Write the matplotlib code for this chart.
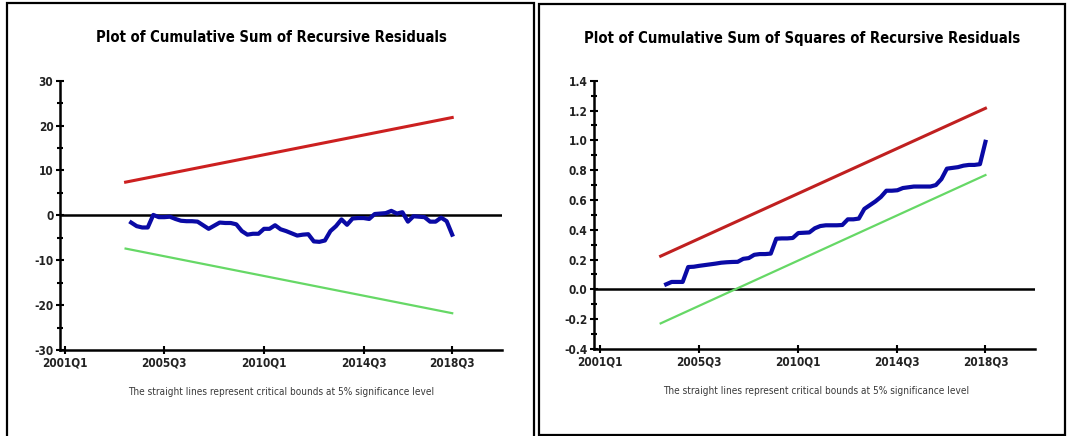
import matplotlib
matplotlib.use("Agg")
import matplotlib.pyplot as plt
import matplotlib.patches as patches
from matplotlib.ticker import MultipleLocator, FormatStrFormatter
import pandas as pd

plt.rcParams["axes.unicode_minus"] = False

# quarter labels on the x axis
base_quarter = pd.Period("2001Q1", freq="Q")
tick_quarters = ["2001Q1", "2005Q3", "2010Q1", "2014Q3", "2018Q3"]

# CUSUM of recursive residuals, 2004Q1 .. 2018Q3
cusum_start = "2004Q1"
cusum = [-1.6, -2.4, -2.7, -2.7, 0.1, -0.4, -0.4, -0.3, -0.8, -1.2,
         -1.3, -1.3, -1.4, -2.2, -3.0, -2.3, -1.6, -1.7, -1.7, -2.0,
         -3.5, -4.3, -4.1, -4.1, -3.0, -3.0, -2.2, -3.1, -3.5, -4.0,
         -4.5, -4.3, -4.2, -5.8, -5.9, -5.6, -3.5, -2.4, -0.9, -2.1,
         -0.7, -0.6, -0.6, -0.8, 0.3, 0.4, 0.5, 1.0, 0.4, 0.7,
         -1.4, -0.2, -0.3, -0.4, -1.4, -1.4, -0.5, -1.3, -4.3]
cusum_bound_q = ["2003Q4", "2018Q3"]
cusum_upper = [7.4, 21.8]
cusum_lower = [-7.4, -21.8]

# CUSUM of squares, 2004Q1 .. 2018Q3
cusumsq_start = "2004Q1"
cusumsq = [0.034, 0.05, 0.05, 0.05, 0.15, 0.152, 0.158, 0.163, 0.168, 0.173,
           0.179, 0.182, 0.184, 0.185, 0.205, 0.21, 0.232, 0.237, 0.237, 0.24,
           0.34, 0.342, 0.342, 0.345, 0.378, 0.38, 0.382, 0.41, 0.425, 0.43,
           0.43, 0.43, 0.432, 0.47, 0.47, 0.475, 0.54, 0.565, 0.59, 0.62,
           0.662, 0.662, 0.665, 0.68, 0.685, 0.69, 0.69, 0.69, 0.69, 0.70,
           0.74, 0.81, 0.815, 0.82, 0.83, 0.835, 0.835, 0.84, 0.99]
cusumsq_bound_q = ["2003Q4", "2018Q3"]
cusumsq_upper = [0.223, 1.215]
cusumsq_lower = [-0.228, 0.767]

note = "The straight lines represent critical bounds at 5% significance level"
FONT = ["DejaVu Sans"]
STRETCH = "condensed"


def qidx(q):
    return (pd.Period(q, freq="Q") - base_quarter).n


def series_x(start, n):
    s = qidx(start)
    return list(range(s, s + n))


def style_axes(ax, xlim, ylim, major, minor, fmt):
    ax.set_xlim(*xlim)
    ax.set_ylim(*ylim)
    for s in ["top", "right"]:
        ax.spines[s].set_visible(False)
    for s in ["left", "bottom"]:
        ax.spines[s].set_linewidth(1.8)
    ax.set_xticks([qidx(q) for q in tick_quarters])
    ax.set_xticklabels(tick_quarters)
    ax.yaxis.set_major_locator(MultipleLocator(major))
    ax.yaxis.set_minor_locator(MultipleLocator(minor))
    ax.yaxis.set_major_formatter(FormatStrFormatter(fmt))
    ax.tick_params(axis="both", which="major", direction="inout", length=6,
                   width=1.5, labelsize=8.5, pad=2)
    ax.tick_params(axis="y", which="minor", direction="inout", length=4, width=1.5)
    fig.canvas.draw()
    for lab in ax.get_xticklabels() + ax.get_yticklabels():
        lab.set_family(FONT)
        lab.set_stretch(STRETCH)
        lab.set_fontweight("bold")
        lab.set_color("#222222")
    ax.axhline(0, color="black", lw=1.8, zorder=1)


fig = plt.figure(figsize=(10.67, 4.36), dpi=100)

# panel borders
fig.add_artist(patches.Rectangle((7 / 1067, -0.01), 527 / 1067, 1 - 3 / 436 + 0.01,
                                 transform=fig.transFigure, fill=False,
                                 edgecolor="black", lw=1.6))
fig.add_artist(patches.Rectangle((539 / 1067, 1 / 436), 526 / 1067, 1 - 5 / 436,
                                 transform=fig.transFigure, fill=False,
                                 edgecolor="black", lw=1.6))

# left: CUSUM
ax1 = fig.add_axes([0.0565, 0.1972, 0.414, 0.6177])
style_axes(ax1, (-0.8, 79), (-30, 30), 10, 5, "%d")
ax1.plot([qidx(q) for q in cusum_bound_q], cusum_upper, color="#cc2020", lw=2.2)
ax1.plot([qidx(q) for q in cusum_bound_q], cusum_lower, color="#66d866", lw=1.6)
ax1.plot(series_x(cusum_start, len(cusum)), cusum, color="#0a0aa5", lw=3,
         solid_joinstyle="round")
fig.text(271 / 1067, 1 - 38 / 436, "Plot of Cumulative Sum of Recursive Residuals",
         ha="center", va="center", fontsize=10.6, fontweight="bold", family=FONT,
         stretch=STRETCH)
fig.text(281 / 1067, 1 - 392 / 436, note, ha="center", va="center",
         fontsize=7.2, color="#3a3a3a", family=FONT, stretch=STRETCH)

# right: CUSUM of squares
ax2 = fig.add_axes([0.557, 0.1995, 0.413, 0.6154])
style_axes(ax2, (-1.05, 79), (-0.4, 1.4), 0.2, 0.1, "%.1f")
ax2.plot([qidx(q) for q in cusumsq_bound_q], cusumsq_upper, color="#c02020", lw=2.2)
ax2.plot([qidx(q) for q in cusumsq_bound_q], cusumsq_lower, color="#66d866", lw=1.6)
ax2.plot(series_x(cusumsq_start, len(cusumsq)), cusumsq, color="#0a0aa5", lw=3,
         solid_joinstyle="round")
fig.text(802 / 1067, 1 - 38 / 436,
         "Plot of Cumulative Sum of Squares of Recursive Residuals",
         ha="center", va="center", fontsize=10.6, fontweight="bold", family=FONT,
         stretch=STRETCH)
fig.text(816 / 1067, 1 - 391 / 436, note, ha="center", va="center",
         fontsize=7.2, color="#3a3a3a", family=FONT, stretch=STRETCH)

fig.savefig("out.png", dpi=100)
